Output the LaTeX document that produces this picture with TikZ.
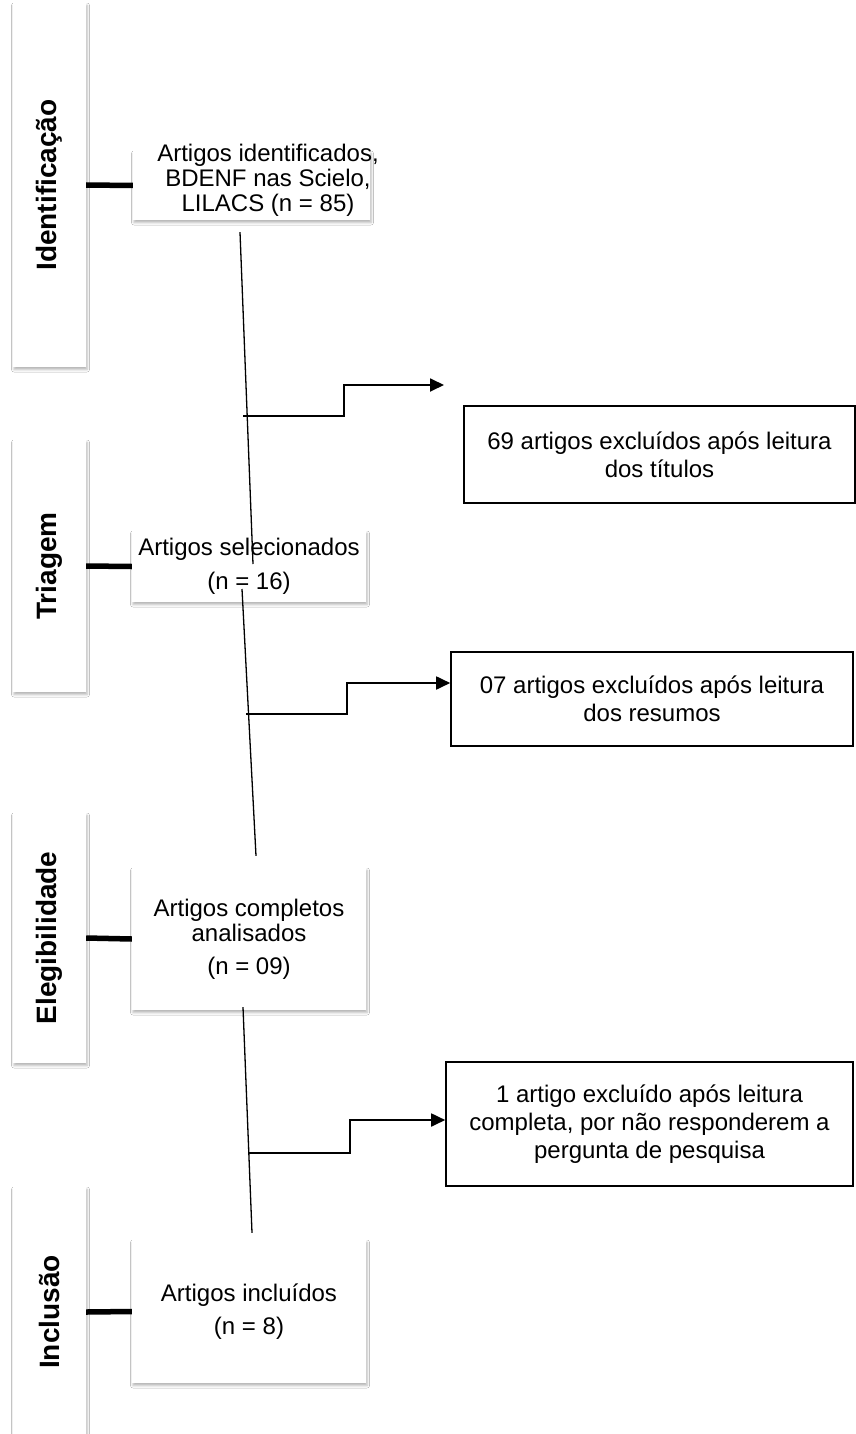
\documentclass[tikz,border=0pt]{standalone}
\usepackage{fontspec}
\setmainfont{Liberation Sans}
\usepackage{tikz}
\usetikzlibrary{positioning}
\usetikzlibrary{arrows.meta}
\usetikzlibrary{shadows.blur}

\begin{document}
\begin{tikzpicture}[x=1pt, y=-1pt,
  sombra/.style={blur shadow={shadow xshift=1pt, shadow yshift=-2.5pt, shadow blur radius=2.5pt, shadow opacity=30}},
  fase/.style={sombra, fill=white, minimum width=73pt, inner sep=0pt, font=\fontsize{28}{30}\selectfont\bfseries},
  caixa/.style={sombra, fill=white, minimum width=234pt, inner sep=0pt, align=center, font=\fontsize{24}{25}\selectfont},
  texto/.style={inner sep=0pt, align=center, font=\fontsize{24}{25}\selectfont},
  exclusao/.style={draw, line width=1.6pt, fill=white, inner sep=0pt, align=center, font=\fontsize{24}{28}\selectfont},
  elo/.style={line width=5.5pt},
  fluxo/.style={line width=1.3pt},
  ramo/.style={line width=1.8pt, -{Triangle[length=14pt, width=13pt]}}]
% Fix the size of the figure
\useasboundingbox (0,0) rectangle (855,1434);
\fill[white] (0,0) rectangle (855,1434);

% Phase bars on the left
\node[fase, minimum height=364pt] (ident) at (49.5,185) {\rotatebox{90}{Identificação}};
\node[fase, minimum height=252pt] (triag) at (49.5,566) {\rotatebox{90}{Triagem}};
\node[fase, minimum height=250pt] (eleg) at (49.5,938) {\rotatebox{90}{Elegibilidade}};
\node[fase, minimum height=250pt] (inclu) at (49.5,1312) {\rotatebox{90}{Inclusão}};

% Boxes of the flow
\node[caixa, minimum width=237pt, minimum height=69pt] (identif) at (251.5,185.5) {};
\node[texto] (identif-txt) at ([xshift=16.5pt, yshift=5pt]identif.center) {Artigos identificados,\\BDENF nas Scielo,\\LILACS (n = 85)};
\node[caixa, minimum height=71pt] (selec) at (249,566.5) {Artigos selecionados\\[9pt](n = 16)};
\node[caixa, minimum height=142pt] (compl) at (249,939) {Artigos completos\\analisados\\[8pt](n = 09)};
\node[caixa, minimum height=143pt] (inclui) at (249,1311.5) {Artigos incluídos\\[8pt](n = 8)};

% Exclusion boxes
\node[exclusao, minimum width=391pt, minimum height=97pt] (exc1) at (659.5,454.5) {69 artigos excluídos após leitura\\dos títulos};
\node[exclusao, minimum width=402pt, minimum height=94pt] (exc2) at (652,699) {07 artigos excluídos após leitura\\dos resumos};
\node[exclusao, minimum width=407pt, minimum height=124pt] (exc3) at (649.5,1124) {1 artigo excluído após leitura\\completa, por não responderem a\\pergunta de pesquisa};

% Thick links phase -> box
\draw[elo] (ident.east) -- (identif.west);
\draw[elo] (triag.east) -- (selec.west);
\draw[elo] (eleg.east) -- (compl.west);
\draw[elo] (inclu.east) -- (inclui.west);

% Main line
\draw[fluxo] ([xshift=-11.5pt, yshift=-12pt]identif.south) -- ([xshift=4pt, yshift=2.5pt]selec.center);
\draw[fluxo] ([xshift=-7pt, yshift=-22.5pt]selec.center) -- ([xshift=7pt, yshift=12pt]compl.north);
\draw[fluxo] ([xshift=-6pt, yshift=3pt]compl.south) -- ([xshift=3pt, yshift=7pt]inclui.north);

% Exclusion branches
\coordinate (saida1) at (243,416);
\coordinate (seta1) at (444,385);
\draw[ramo] (saida1) -- (344,416) |- (seta1);
\coordinate (saida2) at (246,714);
\draw[ramo] (saida2) -- (347,714) |- ([yshift=16pt]exc2.west);
\coordinate (saida3) at (248,1153);
\draw[ramo] (saida3) -- (350,1153) |- ([yshift=4pt]exc3.west);
\end{tikzpicture}
\end{document}
